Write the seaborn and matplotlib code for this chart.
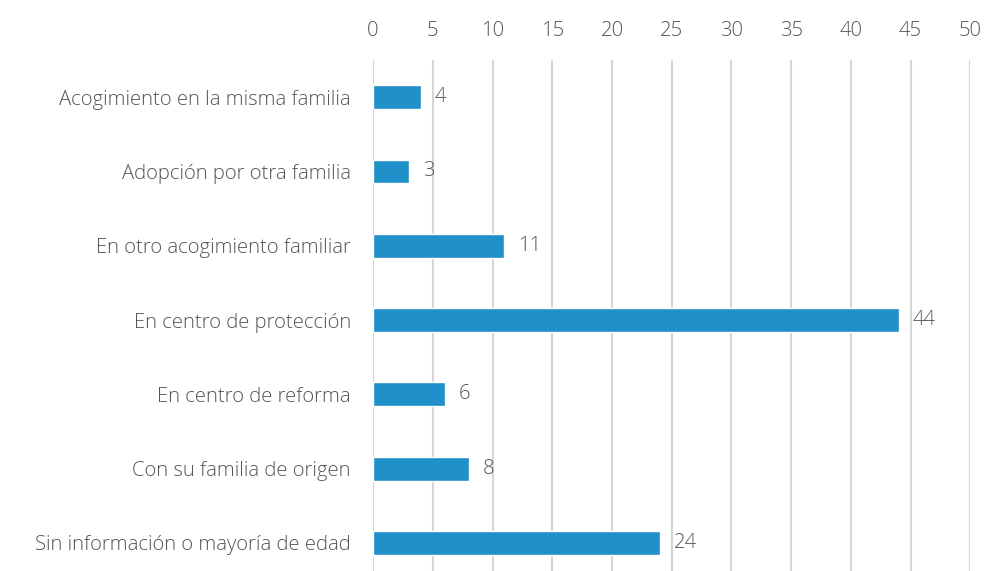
import matplotlib
matplotlib.use("Agg")
import matplotlib.pyplot as plt
import seaborn as sns
import pandas as pd

categorias = [
    "Acogimiento en la misma familia",
    "Adopción por otra familia",
    "En otro acogimiento familiar",
    "En centro de protección",
    "En centro de reforma",
    "Con su familia de origen",
    "Sin información o mayoría de edad",
]
valores = [4, 3, 11, 44, 6, 8, 24]
ticks_x = [0, 5, 10, 15, 20, 25, 30, 35, 40, 45, 50]

sns.set_theme(style="white")
plt.rcParams["font.family"] = ["Open Sans", "DejaVu Sans"]
plt.rcParams["font.weight"] = "light"

texto = "#555555"
azul = "#1F90C9"

df = pd.DataFrame({"categoria": categorias, "valor": valores})

fig = plt.figure(figsize=(9.87, 5.71), dpi=100)
ax = fig.add_axes([0.378, -0.016, 0.605, 0.911])

sns.barplot(data=df, x="valor", y="categoria", orient="h", color=azul,
            width=0.32, saturation=1, ax=ax)

ax.set_xlim(0, 50)
ax.set_ylim(6.5, -0.5)
ax.set_xticks(ticks_x)
ax.xaxis.tick_top()
ax.tick_params(axis="x", length=0, pad=14, labelsize=14.6, labelcolor=texto)
ax.tick_params(axis="y", length=0, pad=16, labelsize=14.6, labelcolor=texto)
ax.set_xlabel("")
ax.set_ylabel("")
ax.grid(axis="x", color="#D6D6D6", linewidth=1.5)
ax.set_axisbelow(True)
for s in ax.spines.values():
    s.set_visible(False)

for cont in ax.containers:
    ax.bar_label(cont, padding=10, fontsize=14.6, color=texto)

fig.savefig("out.png", dpi=100)
